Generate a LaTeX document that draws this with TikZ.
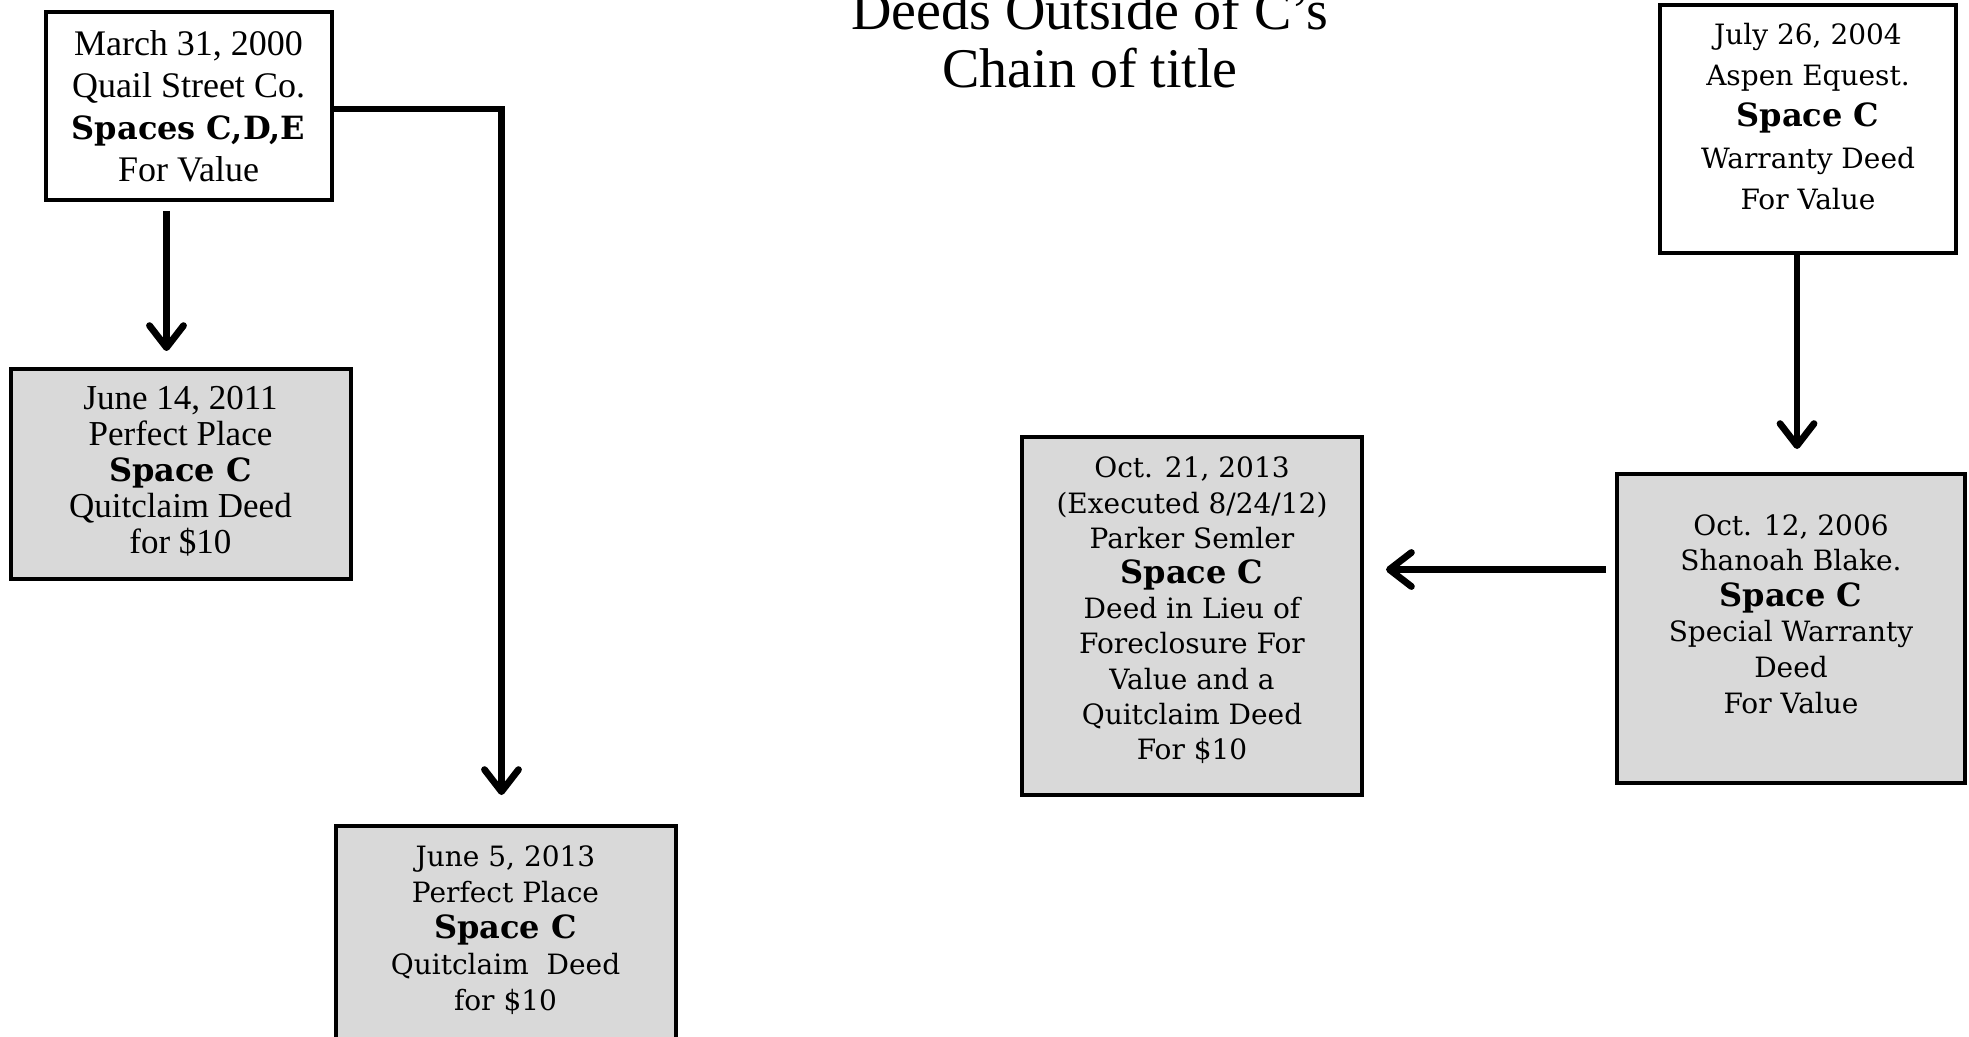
\documentclass[tikz,border=0pt]{standalone}
\usepackage{fontspec}
\setmainfont{Liberation Serif}
\newfontfamily\bookfont{DejaVu Serif}
\usetikzlibrary{arrows.meta}
\definecolor{deedgray}{RGB}{217,217,217}
\newcommand{\spaceline}[1]{{\bookfont\bfseries\fontsize{16}{20}\selectfont #1}}
% empty last line, lifts the text in its box
\newcommand{\lift}[1]{\\[#1]\mbox{}}

\tikzset{
  deed/.style={draw=black, line width=2pt, align=center, inner sep=0pt},
  forvalue/.style={deed, fill=white},
  forten/.style={deed, fill=deedgray},
  bookman/.style={font=\bookfont\fontsize{14}{#1}\selectfont},
  bookman/.default=18,
  conveys/.style={line width=3.4pt, -{Straight Barb[length=11pt,width=17pt,round]}}
}

\begin{document}
\begin{tikzpicture}[x=0.5pt,y=-0.5pt]
  \useasboundingbox (0,0) rectangle (1969,1037);

  % title
  \node[anchor=north, align=center, inner sep=0pt, font=\fontsize{28}{29}\selectfont] (title) at (1090,-10)
    {Deeds Outside of C’s\\Chain of title};

  % left side
  \node[forvalue, font=\fontsize{18}{21}\selectfont, minimum width=143pt, minimum height=94pt] (quail) at (188.5,106)
    {March 31, 2000\\Quail Street Co.\\\spaceline{Spaces C,D,E}\\For Value};
  \node[forten, font=\fontsize{17.5}{18}\selectfont, minimum width=170pt, minimum height=105pt] (perfect11) at (180.5,474)
    {June 14, 2011\\Perfect Place\\\spaceline{Space C}\\Quitclaim Deed\\for \$10\lift{-14pt}};
  \node[forten, bookman, minimum width=170pt, minimum height=108pt] (perfect13) at (505.5,934)
    {June 5, 2013\\Perfect Place\\\spaceline{Space C}\\Quitclaim\ \ Deed\\for \$10\lift{-12pt}};

  % right side
  \node[forvalue, bookman=20.7, minimum width=148pt, minimum height=124pt] (aspen) at (1808,129)
    {July 26, 2004\\Aspen Equest.\\\spaceline{Space C}\\Warranty Deed\\For Value\lift{-8pt}};
  \node[forten, bookman=17.8, minimum width=174pt, minimum height=154.5pt] (shanoah) at (1791,628.5)
    {Oct. 12, 2006\\Shanoah Blake.\\\spaceline{Space C}\\Special Warranty\\Deed\\For Value\lift{-3pt}};
  \node[forten, bookman=17.6, minimum width=170pt, minimum height=179pt] (parker) at (1192,616)
    {Oct. 21, 2013\\(Executed 8/24/12)\\Parker Semler\\\spaceline{Space C}\\Deed in Lieu of\\Foreclosure For\\Value and a\\Quitclaim Deed\\For \$10\lift{-10pt}};

  % conveyances
  \draw[conveys, shorten <=4.5pt, shorten >=8pt] ([xshift=-11pt]quail.south) -- ([xshift=-11pt]quail.south |- perfect11.north);
  \draw[conveys, line join=miter, shorten >=14.5pt] ([yshift=-1.5pt]quail.east) -| ([xshift=-2pt]perfect13.north);
  \draw[conveys, shorten >=11.5pt] ([xshift=-5.5pt]aspen.south) -- ([xshift=-5.5pt]aspen.south |- shanoah.north);
  \draw[conveys, shorten <=4.5pt, shorten >=11pt] ([yshift=29.5pt]shanoah.west) -- ([yshift=29.5pt]shanoah.west -| parker.east);
\end{tikzpicture}
\end{document}
